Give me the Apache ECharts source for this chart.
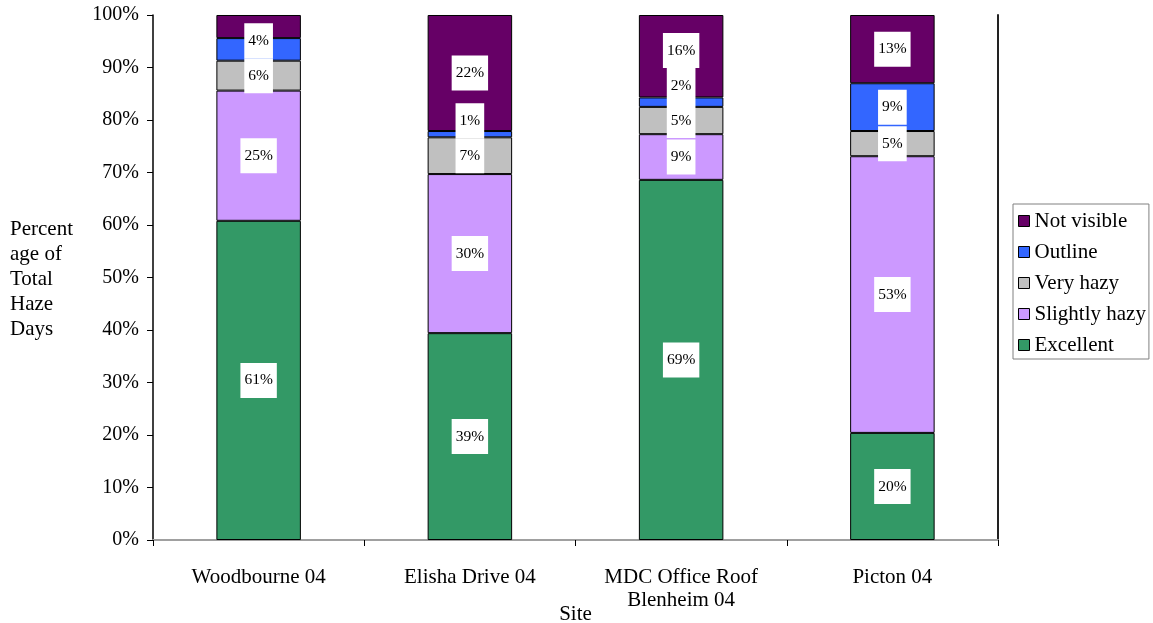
<!DOCTYPE html>
<html>
<head>
<meta charset="utf-8">
<title>Haze Days by Site</title>
<script src="https://cdn.jsdelivr.net/npm/echarts@6/dist/echarts.min.js"></script>
<style>
  html, body { margin: 0; padding: 0; background: #ffffff; }
  #chart { width: 1153px; height: 623px; }
</style>
</head>
<body>
<div id="chart"></div>
<script>
// Sites along the category axis
const sites = ['Woodbourne 04', 'Elisha Drive 04', 'MDC Office Roof\nBlenheim 04', 'Picton 04'];

// Percentage of total haze days per visibility class, one value per site
const excellent     = [60.8, 39.4, 68.6, 20.4];
const slightlyHazy  = [24.8, 30.3,  8.7, 52.7];
const veryHazy      = [ 5.7,  7.0,  5.2,  4.8];
const outline       = [ 4.3,  1.2,  1.8,  9.1];
const notVisible    = [ 4.4, 22.1, 15.7, 13.0];

// Visibility classes, bottom of the stack first
const classNames  = ['Excellent', 'Slightly hazy', 'Very hazy', 'Outline', 'Not visible'];
const classValues = [excellent, slightlyHazy, veryHazy, outline, notVisible];
const classColors = ['#339966', '#CC99FF', '#C0C0C0', '#3366FF', '#660066'];

// The thin top slice at Woodbourne carries no readable label of its own
const hiddenLabels = { 'Not visible': [0] };

const yTicks = [0, 10, 20, 30, 40, 50, 60, 70, 80, 90, 100];

const serif = "'Liberation Serif', 'Times New Roman', serif";

// Value labels are stacked bottom-up; a label that would overlap the one
// below it in the same column is lifted just clear of it.
const columnTops = {};
function stackLabelLayout(params) {
  const col = params.dataIndex;
  if (params.seriesIndex === 0) columnTops[col] = Infinity;
  const r = params.labelRect;
  const limit = columnTops[col] === undefined ? Infinity : columnTops[col];
  let dy = 0;
  if (r.y + r.height > limit) dy = limit - (r.y + r.height);
  columnTops[col] = r.y + dy;
  return { dy: dy };
}

const series = classNames.map((name, i) => ({
  name: name,
  type: 'bar',
  stack: 'haze',
  barWidth: '40%',
  data: classValues[i].map((v, j) =>
    (hiddenLabels[name] || []).includes(j) ? { value: v, label: { show: false } } : v),
  itemStyle: { color: classColors[i], borderColor: '#000000', borderWidth: 1 },
  label: {
    show: true,
    position: 'inside',
    formatter: p => Math.round(p.value) + '%',
    color: '#000000',
    fontFamily: serif,
    fontSize: 15.5,
    backgroundColor: '#ffffff',
    padding: [9.5, 4, 9.5, 4]
  },
  labelLayout: stackLabelLayout
}));

const chart = echarts.init(document.getElementById('chart'), null, { renderer: 'canvas' });

chart.setOption({
  backgroundColor: '#ffffff',
  animation: false,
  grid: { left: 153, right: 155, top: 15, bottom: 83, containLabel: false, outerBoundsMode: 'none' },
  legend: {
    orient: 'vertical',
    left: 1013,
    top: 204,
    data: classNames.slice().reverse(),
    icon: 'rect',
    itemWidth: 11,
    itemHeight: 11,
    itemGap: 7,
    padding: [5, 3, 2, 5],
    borderColor: '#808080',
    borderWidth: 1,
    itemStyle: { borderColor: '#000000', borderWidth: 1 },
    textStyle: { fontFamily: serif, fontSize: 21, color: '#000000', lineHeight: 24 }
  },
  xAxis: [
    {
      type: 'category',
      data: sites,
      position: 'bottom',
      name: 'Site',
      nameLocation: 'middle',
      nameGap: 64,
      nameMoveOverlap: false,
      nameTextStyle: { fontFamily: serif, fontSize: 21, color: '#000000' },
      axisLine: { show: true, lineStyle: { color: '#000000', width: 2 } },
      axisTick: { show: true, length: 6, lineStyle: { color: '#000000', width: 1 } },
      axisLabel: { fontFamily: serif, fontSize: 21, color: '#000000', margin: 26, lineHeight: 23 }
    },
    {
      type: 'category',
      data: sites,
      position: 'top',
      axisLine: { show: true, lineStyle: { color: '#a0a0a0', width: 2 } },
      axisTick: { show: false },
      axisLabel: { show: false }
    }
  ],
  yAxis: [
    {
      type: 'value',
      min: yTicks[0],
      max: yTicks[yTicks.length - 1],
      interval: yTicks[1] - yTicks[0],
      position: 'left',
      splitLine: { show: false },
      axisLine: { show: true, lineStyle: { color: '#000000', width: 1.5 } },
      axisTick: { show: true, length: 6, lineStyle: { color: '#000000' } },
      axisLabel: {
        fontFamily: serif, fontSize: 20, color: '#000000', margin: 14,
        formatter: v => v + '%'
      }
    },
    {
      type: 'value',
      min: yTicks[0],
      max: yTicks[yTicks.length - 1],
      position: 'right',
      splitLine: { show: false },
      axisLine: { show: true, lineStyle: { color: '#222222', width: 2 } },
      axisTick: { show: false },
      axisLabel: { show: false }
    }
  ],
  graphic: [
    {
      type: 'text',
      left: 10,
      top: 217,
      style: {
        text: 'Percent\nage of\nTotal\nHaze\nDays',
        fontFamily: serif,
        fontSize: 21,
        lineHeight: 25,
        fill: '#000000',
        align: 'left'
      }
    }
  ],
  series: series
});
</script>
</body>
</html>
